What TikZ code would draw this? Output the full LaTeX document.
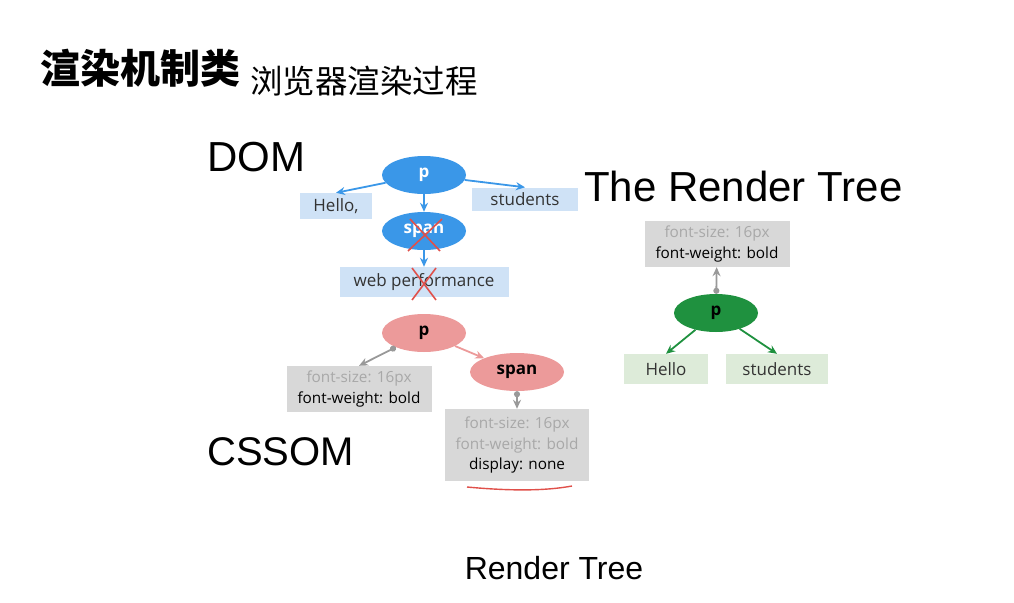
\documentclass[tikz,border=0pt]{standalone}
\usepackage{fontspec}
\setmainfont{Liberation Sans}
\newfontfamily\boxfont{Open Sans}
\newfontfamily\cjk{Noto Sans CJK SC}
\usetikzlibrary{calc}
\usetikzlibrary{arrows.meta}
\usetikzlibrary{shapes.geometric}
\definecolor{domblue}{HTML}{3A97E8}
\definecolor{domleaf}{HTML}{CFE2F6}
\definecolor{csspink}{HTML}{EC9A9A}
\definecolor{cssgray}{HTML}{D8D8D8}
\definecolor{rtgreen}{HTML}{1F913F}
\definecolor{rtleaf}{HTML}{DDEBD9}
\definecolor{dimtext}{HTML}{A8A8A8}
\definecolor{crossred}{HTML}{E0504A}
\tikzset{
 elem/.style={ellipse, minimum width=84, minimum height=38, inner sep=0, font=\boxfont\bfseries\fontsize{17}{19}\selectfont},
 leaf/.style={rectangle, minimum height=26, inner sep=0, font=\boxfont\fontsize{17}{19}\selectfont, text=black!80},
 rule/.style={rectangle, fill=cssgray, inner sep=0, align=center, font=\boxfont\fontsize{15.3}{20.5}\selectfont},
 link/.style={line width=1.8, -{Stealth[length=9pt,width=8pt]}},
 styl/.style={line width=1.8, gray!80, {Circle[length=6pt]}-{Stealth[length=9pt,width=8pt]}},
 heading/.style={font=\fontsize{42}{46}\selectfont, anchor=west, inner sep=0},
 cross/.style={crossred, line width=1.6},
}
\begin{document}
\begin{tikzpicture}[x=1pt, y=-1pt]
\useasboundingbox (0,0) rectangle (1014,602);
% titles
\node[anchor=west, inner sep=0, font=\cjk\bfseries\fontsize{40}{42}\selectfont] (title) at (40,68) {渲染机制类};
\node[anchor=west, inner sep=0, font=\cjk\fontsize{32.5}{35}\selectfont] (subtitle) at (250,81) {浏览器渲染过程};
\node[heading] (dom) at (207,157) {DOM};
\node[heading, font=\fontsize{40}{44}\selectfont] (cssom) at (207,452) {CSSOM};
\node[heading] (rtitle) at (584,186) {The Render Tree};
\node[inner sep=0, font=\fontsize{32}{36}\selectfont] (rtree) at (554,568) {Render Tree};

% DOM tree
\node[elem, fill=domblue, text=white] (dp) at (424,175) {p};
\node[leaf, fill=domleaf, minimum width=72] (dhello) at (336,206) {Hello,};
\node[leaf, fill=domleaf, minimum width=106, minimum height=23] (dstud) at (525,199) {students};
\node[elem, fill=domblue, text=white] (dspan) at (424,231) {span};
\node[leaf, fill=domleaf, minimum width=169, minimum height=30] (dweb) at (424,282) {web performance};
\draw[link, domblue] (dp) -- (dhello.north);
\draw[link, domblue] (dp) -- (dstud.north);
\draw[link, domblue] (dp) -- (dspan);
\draw[link, domblue] (dspan) -- (dweb);
% crossed out
\draw[cross] ($(dspan)+(-14,-12)$) -- ($(dspan)+(16,20)$);
\draw[cross] ($(dspan)+(18,-12)$) -- ($(dspan)+(-16,20)$);
\draw[cross] ($(dweb)+(-12,-14)$) -- ($(dweb)+(12,18)$);
\draw[cross] ($(dweb)+(12,-14)$) -- ($(dweb)+(-12,18)$);

% CSSOM tree
\node[elem, fill=csspink] (cp) at (424,333) {p};
\node[elem, fill=csspink, minimum width=94] (cspan) at (517,372) {span};
\node[rule, minimum width=145, minimum height=46] (cpr) at (359,389) {\textcolor{dimtext}{font-size: 16px}\\font-weight: bold};
\node[rule, minimum width=144, minimum height=72] (cspr) at (517,445) {\textcolor{dimtext}{font-size: 16px}\\\textcolor{dimtext}{font-weight: bold}\\display: none};
\draw[link, csspink] (cp) -- (cspan);
\draw[styl] (cp) -- (cpr.north);
\draw[styl] (cspan) -- (cspr);
\draw[cross, line width=1.4] (467,487) .. controls (510,491) and (545,491) .. (572,486);

% render tree
\node[elem, fill=rtgreen] (rp) at (716,313) {p};
\node[rule, minimum width=145, minimum height=46] (rpr) at (717,244) {\textcolor{dimtext}{font-size: 16px}\\font-weight: bold};
\node[leaf, fill=rtleaf, minimum width=84, minimum height=30] (rhello) at (666,369) {Hello};
\node[leaf, fill=rtleaf, minimum width=102, minimum height=30] (rstud) at (777,369) {students};
\draw[link, rtgreen] (rp) -- (rhello.north);
\draw[link, rtgreen] (rp) -- (rstud.north);
\draw[styl] (rp) -- (rpr);
\end{tikzpicture}
\end{document}
